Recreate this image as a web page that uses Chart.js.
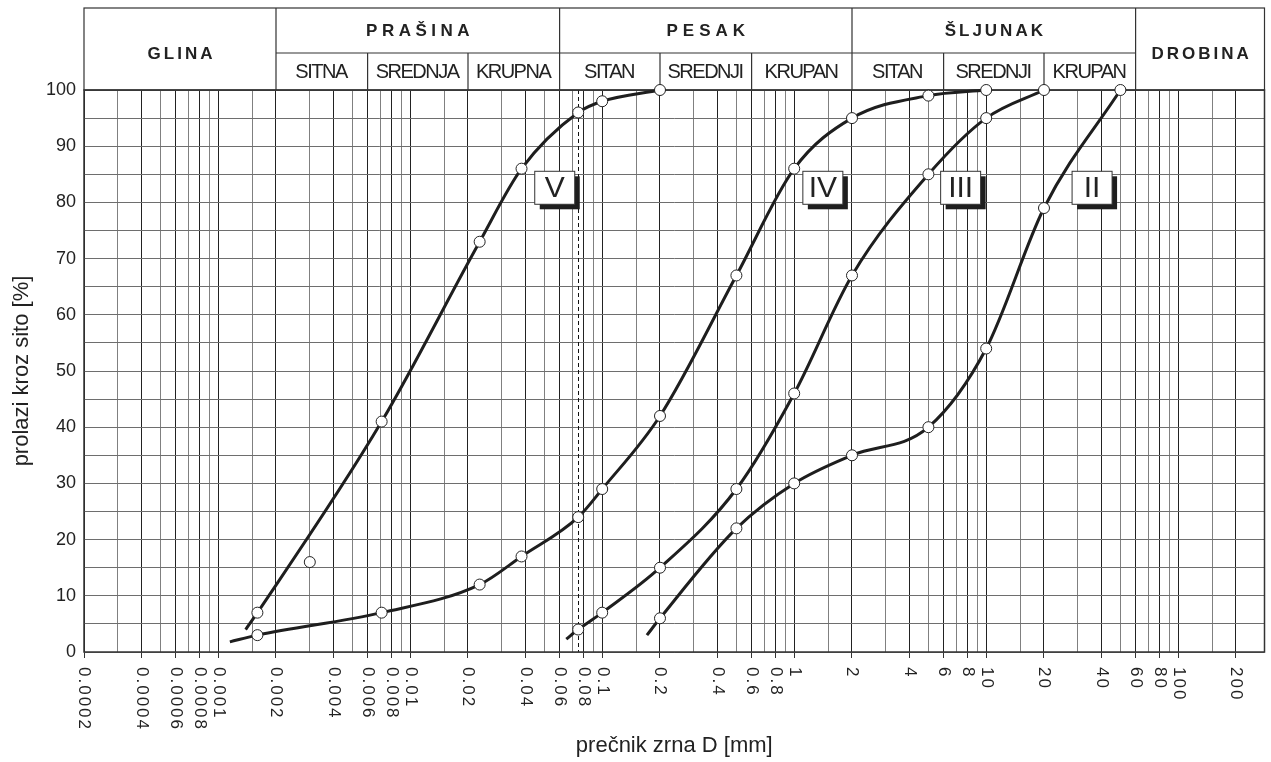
<!DOCTYPE html>
<html>
<head>
<meta charset="utf-8">
<title>Granulometrijski dijagram</title>
<script src="https://cdn.jsdelivr.net/npm/chart.js@4/dist/chart.umd.min.js"></script>
<style>
  body { margin: 0; background: #fff; }
  #chart { display: block; }
</style>
</head>
<body>
<canvas id="chart" width="1271" height="762"></canvas>
<script>
// granulometrijske krive: precnik zrna D [mm] / prolazi kroz sito [%]
const sizesV = [0.0016, 0.003, 0.0071, 0.023, 0.038, 0.075, 0.1, 0.2];
const passV  = [7, 16, 41, 73, 86, 96, 98, 100];
const sizesIV = [0.0016, 0.0071, 0.023, 0.038, 0.075, 0.1, 0.2, 0.5, 1, 2, 5, 10];
const passIV  = [3, 7, 12, 17, 24, 29, 42, 67, 86, 95, 99, 100];
const sizesIII = [0.075, 0.1, 0.2, 0.5, 1, 2, 5, 10, 20];
const passIII  = [4, 7, 15, 29, 46, 67, 85, 95, 100];
const sizesII = [0.2, 0.5, 1, 2, 5, 10, 20, 50];
const passII  = [6, 22, 30, 35, 40, 54, 79, 100];

const curveNames = ['V', 'IV', 'III', 'II'];
// where each drawn curve begins, below its first point
const startSize = [0.00139, 0.00115, 0.065, 0.171];
const startPass = [4, 1.8, 2.3, 3];
// point of curve V that the curve does not pass through
const offCurveV = [1];
// where the curve names sit
const labelSize = [0.0566, 1.41, 7.36, 35.6];
const labelPass = 82.6;

const xTickLabels = ['0.0002', '0.0004', '0.0006', '0.0008', '0.001', '0.002', '0.004', '0.006', '0.008',
  '0.01', '0.02', '0.04', '0.06', '0.08', '0.1', '0.2', '0.4', '0.6', '0.8', '1', '2', '4', '6', '8',
  '10', '20', '40', '60', '80', '100', '200'];
const gridMantissas = [1, 1.5, 2, 3, 4, 5, 6, 7, 8, 9];

const mainFractions = ['GLINA', 'PRAŠINA', 'PESAK', 'ŠLJUNAK', 'DROBINA'];
const mainLimits = [0.002, 0.06, 2, 60];
const subFractions = [['SITNA', 'SREDNJA', 'KRUPNA'], ['SITAN', 'SREDNJI', 'KRUPAN'], ['SITAN', 'SREDNJI', 'KRUPAN']];
const subLimits = [[0.006, 0.02], [0.2, 0.6], [6, 20]];
const sieveLine = 0.075;

const xMin = 0.0002, xMax = 281.5;
const FONT = '"Liberation Sans", Arial, sans-serif';
Chart.defaults.font.family = FONT;

let gridValues = [];
for (let e = -4; e <= 2; e++)
    gridMantissas.forEach(m => {
        const v = m * Math.pow(10, e);
        if (v >= xMin * 0.999 && v <= xMax) gridValues.push(v);
    });

function isLabeled(v) {
    if (!v) return false;
    const m = Math.round(v / Math.pow(10, Math.floor(Math.log10(v) + 1e-9)) * 10) / 10;
    return [1, 2, 4, 6, 8].includes(m);
}

function pts(xs, ys) {
    return xs.map((x, i) => ({x: x, y: ys[i]}));
}

const curves = [[sizesV, passV], [sizesIV, passIV], [sizesIII, passIII], [sizesII, passII]];
const datasets = [];
curves.forEach((c, k) => {
    let linePts = pts(c[0], c[1]).filter((p, i) => !(k === 0 && offCurveV.includes(i)));
    linePts.unshift({x: startSize[k], y: startPass[k]});
    datasets.push({
        label: 'kriva ' + curveNames[k],
        data: linePts,
        showLine: true,
        borderColor: '#1e1e1e',
        borderWidth: 3,
        pointRadius: 0,
        cubicInterpolationMode: 'monotone',
        clip: false,
        order: 2
    });
    datasets.push({
        label: 'tacke ' + curveNames[k],
        data: pts(c[0], c[1]),
        showLine: false,
        pointRadius: 5.5,
        pointBackgroundColor: '#fff',
        pointBorderColor: '#222',
        pointBorderWidth: 1,
        clip: false,
        order: 1
    });
});

function spacedText(ctx, text, cx, cy, spacing) {
    ctx.letterSpacing = spacing + 'px';
    const w = ctx.measureText(text).width - spacing;
    ctx.textAlign = 'left';
    ctx.fillText(text, cx - w / 2, cy);
    ctx.letterSpacing = '0px';
}

const headerPlugin = {
    id: 'header',
    beforeDatasetsDraw(chart) {
        const {ctx, chartArea: a, scales: {x}} = chart;
        const px = v => x.getPixelForValue(v);
        const top = 8, mid = 53, bot = a.top;
        ctx.save();
        // dashed sieve line
        ctx.strokeStyle = '#111';
        ctx.lineWidth = 1;
        ctx.setLineDash([4, 3]);
        ctx.beginPath();
        ctx.moveTo(Math.round(px(sieveLine)) + 0.5, a.top);
        ctx.lineTo(Math.round(px(sieveLine)) + 0.5, a.bottom);
        ctx.stroke();
        ctx.setLineDash([]);

        ctx.strokeStyle = '#333';
        ctx.lineWidth = 1.5;
        ctx.strokeRect(a.left, a.top, a.right - a.left, a.bottom - a.top);
        ctx.lineWidth = 1.2;
        ctx.strokeRect(a.left, top, a.right - a.left, bot - top);
        ctx.beginPath();
        mainLimits.forEach(v => { ctx.moveTo(px(v), top); ctx.lineTo(px(v), bot); });
        ctx.moveTo(px(mainLimits[0]), mid);
        ctx.lineTo(px(mainLimits[3]), mid);
        subLimits.forEach(s => s.forEach(v => { ctx.moveTo(px(v), mid); ctx.lineTo(px(v), bot); }));
        ctx.stroke();

        ctx.fillStyle = '#222';
        ctx.textBaseline = 'middle';
        ctx.font = 'bold 17px ' + FONT;
        const edges = [a.left].concat(mainLimits.map(px), [a.right]);
        const spacing = [3, 4.5, 5, 3, 3];
        mainFractions.forEach((name, i) => {
            const cx = (edges[i] + edges[i + 1]) / 2;
            const cy = (i === 0 || i === 4) ? 54 : 31;
            spacedText(ctx, name, cx, cy, spacing[i]);
        });
        ctx.font = '20px ' + FONT;
        subFractions.forEach((names, j) => {
            const e = [mainLimits[j]].concat(subLimits[j], [mainLimits[j + 1]]).map(px);
            names.forEach((name, i) => spacedText(ctx, name, (e[i] + e[i + 1]) / 2, 72, -1.5));
        });
        ctx.restore();
    },
    afterDatasetsDraw(chart) {
        const {ctx, scales: {x, y}} = chart;
        ctx.save();
        curveNames.forEach((name, i) => {
            const cx = x.getPixelForValue(labelSize[i]);
            const cy = y.getPixelForValue(labelPass);
            const w = 40, h = 33;
            ctx.fillStyle = '#1e1e1e';
            ctx.fillRect(cx - w / 2 + 5, cy - h / 2 + 5, w, h);
            ctx.fillStyle = '#fff';
            ctx.fillRect(cx - w / 2, cy - h / 2, w, h);
            ctx.strokeStyle = '#333';
            ctx.lineWidth = 1;
            ctx.strokeRect(cx - w / 2, cy - h / 2, w, h);
            ctx.fillStyle = '#222';
            ctx.font = '30px ' + FONT;
            ctx.textAlign = 'center';
            ctx.textBaseline = 'middle';
            ctx.fillText(name, cx, cy + 1);
        });
        ctx.restore();
    },
    afterDraw(chart) {
        const {ctx, scales: {x}} = chart;
        ctx.save();
        ctx.fillStyle = '#222';
        ctx.font = '17px ' + FONT;
        ctx.letterSpacing = '2px';
        ctx.textAlign = 'left';
        ctx.textBaseline = 'middle';
        xTickLabels.forEach(lbl => {
            ctx.save();
            ctx.translate(x.getPixelForValue(parseFloat(lbl)), 667);
            ctx.rotate(Math.PI / 2);
            ctx.fillText(lbl, 0, 0);
            ctx.restore();
        });
        ctx.restore();
    }
};

new Chart(document.getElementById('chart').getContext('2d'), {
    type: 'scatter',
    data: {datasets: datasets},
    options: {
        responsive: false,
        animation: false,
        devicePixelRatio: 1,
        layout: {padding: {top: 90, right: 6, bottom: 0, left: 0}},
        plugins: {legend: {display: false}, tooltip: {enabled: false}},
        scales: {
            x: {
                type: 'logarithmic',
                min: xMin,
                max: xMax,
                afterBuildTicks: s => { s.ticks = gridValues.map(v => ({value: v})); },
                afterFit: s => { s.height = 110; },
                ticks: {display: false},
                grid: {
                    color: c => isLabeled(c.tick && c.tick.value) ? '#222' : '#808080',
                    lineWidth: 1,
                    drawTicks: true,
                    tickLength: 6,
                    tickColor: c => isLabeled(c.tick && c.tick.value) ? '#333' : 'rgba(0,0,0,0)'
                },
                border: {display: false},
                title: {display: true, text: 'prečnik zrna D [mm]', font: {size: 22}, color: '#222', padding: {top: 0, bottom: 3}}
            },
            y: {
                min: 0,
                max: 100,
                afterFit: s => { s.width = 84; },
                ticks: {
                    stepSize: 5,
                    callback: v => v % 10 === 0 ? v : '',
                    font: {size: 18},
                    color: '#222',
                    padding: 8
                },
                grid: {color: '#6e6e6e', lineWidth: 1, drawTicks: false},
                border: {display: false},
                title: {display: true, text: 'prolazi kroz sito [%]', font: {size: 22}, color: '#222', padding: {top: 9, bottom: 0}}
            }
        }
    },
    plugins: [headerPlugin]
});
</script>
</body>
</html>
